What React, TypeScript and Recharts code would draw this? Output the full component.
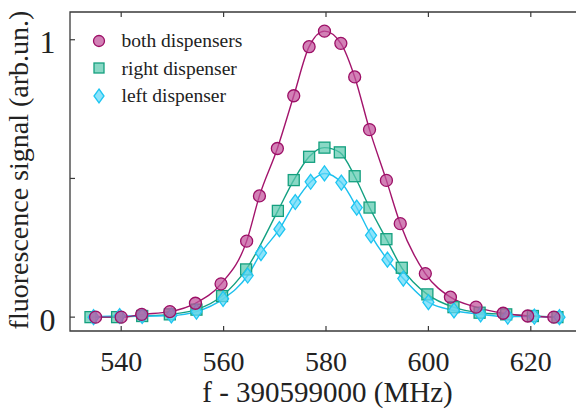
import React from "react";
import {
  ComposedChart, Line, Scatter, XAxis, YAxis, ReferenceArea, Legend,
} from "recharts";

// both dispensers (circles)
const BOTH_F = [535, 540, 544, 549.5, 554.5, 559.5, 564.5, 567, 570.5, 573.7, 576.7, 579.7, 582.9, 585.6, 588.5, 591.8, 594.5, 599.4, 604.3, 609.3, 614.6, 619.4, 624.5];
const BOTH_V = [0, 0, 0.01, 0.02, 0.05, 0.12, 0.274, 0.437, 0.608, 0.798, 0.975, 1.031, 0.987, 0.866, 0.676, 0.493, 0.337, 0.157, 0.072, 0.036, 0.014, 0.004, 0];

// right dispenser (squares)
const RIGHT_F = [534, 539.2, 544.1, 549.5, 554.7, 559.7, 564.4, 570.6, 573.7, 576.7, 579.7, 582.7, 585.6, 588.5, 591.8, 594.8, 599.8, 604.9, 610, 615.2, 620.4, 625.2];
const RIGHT_V = [0, 0, 0.004, 0.01, 0.027, 0.076, 0.172, 0.383, 0.494, 0.578, 0.611, 0.594, 0.508, 0.395, 0.281, 0.178, 0.082, 0.036, 0.016, 0.01, 0.004, 0];

// left dispenser (diamonds)
const LEFT_F = [534.6, 539.7, 544.1, 549.8, 554.7, 559.9, 564.7, 567.3, 570.9, 574, 577, 579.7, 583, 586, 588.8, 592, 595.1, 600, 605, 610.2, 615.5, 620.7, 625.6];
const LEFT_V = [0, 0.004, 0.004, 0.006, 0.02, 0.066, 0.15, 0.231, 0.317, 0.415, 0.488, 0.518, 0.485, 0.395, 0.295, 0.207, 0.139, 0.054, 0.024, 0.01, 0.002, 0.002, 0];

const X_TICKS = [540, 560, 580, 600, 620];
const Y_TICKS = [0, 0.5, 1];
const Y_TICK_LABELS: Record<number, string> = { 0: "0", 0.5: "", 1: "1" };

const toRows = (f: number[], v: number[]) => f.map((x, i) => ({ f: x, v: v[i] }));
const both = toRows(BOTH_F, BOTH_V);
const right = toRows(RIGHT_F, RIGHT_V);
const left = toRows(LEFT_F, LEFT_V);

const W = 576;
const H = 404;
const PL = 62, PR = 574, PT = 4, PB = 323;
const FONT = "Liberation Serif";
const INK = "#222";
const FRAME = "#3a3a3a";

const C_BOTH = { line: "#a3146c", fill: "#c0509a", stroke: "#9c0f66" };
const C_RIGHT = { line: "#13a081", fill: "#5cc9ae", stroke: "#14a07f" };
const C_LEFT = { line: "#1cc0ee", fill: "#62d8f8", stroke: "#1ec6f2" };

const circle = (c: typeof C_BOTH, r = 6) => (p: any) => (
  <circle cx={p.cx} cy={p.cy} r={r} fill={c.fill} fillOpacity={0.72} stroke={c.stroke} strokeWidth={1.3} />
);
const square = (c: typeof C_BOTH, s = 11) => (p: any) => (
  <rect x={p.cx - s / 2} y={p.cy - s / 2} width={s} height={s} fill={c.fill} fillOpacity={0.72} stroke={c.stroke} strokeWidth={1.3} />
);
const diamond = (c: typeof C_BOTH, w = 5.5, h = 7.5) => (p: any) => (
  <polygon
    points={`${p.cx},${p.cy - h} ${p.cx + w},${p.cy} ${p.cx},${p.cy + h} ${p.cx - w},${p.cy}`}
    fill={c.fill} fillOpacity={0.72} stroke={c.stroke} strokeWidth={1.3}
  />
);

const XTick = (props: any) => {
  const { x, payload } = props;
  return (
    <g>
      <line x1={x} x2={x} y1={PB} y2={PB - 5} stroke={FRAME} strokeWidth={1.2} />
      <line x1={x} x2={x} y1={PT} y2={PT + 5} stroke={FRAME} strokeWidth={1.2} />
      <text x={x} y={PB + 40} textAnchor="middle" fontFamily={FONT} fontSize={28} fill={INK}>
        {payload.value}
      </text>
    </g>
  );
};

const YTick = (props: any) => {
  const { y, payload } = props;
  return (
    <g>
      <line x1={PL} x2={PL + 5} y1={y} y2={y} stroke={FRAME} strokeWidth={1.2} />
      <line x1={PR} x2={PR - 5} y1={y} y2={y} stroke={FRAME} strokeWidth={1.2} />
      <text x={39.5} y={y + 13.5} textAnchor="middle" fontFamily={FONT} fontSize={32} fill={INK}>
        {Y_TICK_LABELS[payload.value]}
      </text>
    </g>
  );
};

const LEGEND_ITEMS = [
  { name: "both dispensers", mark: circle(C_BOTH, 5.5) },
  { name: "right dispenser", mark: square(C_RIGHT, 10) },
  { name: "left dispenser", mark: diamond(C_LEFT, 5, 7) },
];

const LegendBox = () => (
  <div style={{ fontFamily: FONT, fontSize: 19.5, color: INK, lineHeight: "27.5px" }}>
    {LEGEND_ITEMS.map((it) => (
      <div key={it.name} style={{ display: "flex", alignItems: "center", height: 27.5 }}>
        <svg width={22} height={22} style={{ marginRight: 11.5 }}>
          {it.mark({ cx: 11, cy: 11 })}
        </svg>
        <span style={{ whiteSpace: "nowrap" }}>{it.name}</span>
      </div>
    ))}
  </div>
);

const YLABEL_Y = 162;

export default function App() {
  return (
    <div style={{ fontFamily: FONT, width: W, height: H }}>
      <ComposedChart width={W} height={H} margin={{ top: PT, right: W - PR, left: 0, bottom: 0 }}>
        <XAxis
          dataKey="f"
          type="number"
          domain={[530, 630]}
          ticks={X_TICKS}
          allowDataOverflow
          height={H - PB}
          axisLine={false}
          tickLine={false}
          tick={<XTick />}
          label={() => (
            <text x={319.5} y={393.5} textAnchor="middle" fontFamily={FONT} fontSize={29} fill={INK}>
              f - 390599000 (MHz)
            </text>
          )}
        />
        <YAxis
          dataKey="v"
          type="number"
          domain={[-0.05, 1.1]}
          ticks={Y_TICKS}
          allowDataOverflow
          width={PL}
          axisLine={false}
          tickLine={false}
          tick={<YTick />}
          label={() => (
            <text
              x={20}
              y={YLABEL_Y}
              transform={`rotate(-90, 20, ${YLABEL_Y})`}
              textAnchor="middle"
              fontFamily={FONT}
              fontSize={28}
              fill={INK}
            >
              fluorescence signal (arb.un.)
            </text>
          )}
        />
        <ReferenceArea x1={530} x2={630} y1={-0.05} y2={1.1} fill="none" stroke={FRAME} strokeWidth={1.3} />
        <Legend
          layout="vertical"
          align="center"
          verticalAlign="middle"
          content={<LegendBox />}
          wrapperStyle={{ left: 80, top: 19, width: "auto", height: "auto" }}
        />
        <Line data={right} dataKey="v" type="monotone" stroke={C_RIGHT.line} strokeWidth={1.4} dot={false} isAnimationActive={false} legendType="none" />
        <Line data={left} dataKey="v" type="monotone" stroke={C_LEFT.line} strokeWidth={1.4} dot={false} isAnimationActive={false} legendType="none" />
        <Line data={both} dataKey="v" type="monotone" stroke={C_BOTH.line} strokeWidth={1.4} dot={false} isAnimationActive={false} legendType="none" />
        <Scatter data={right} dataKey="v" shape={square(C_RIGHT)} isAnimationActive={false} />
        <Scatter data={left} dataKey="v" shape={diamond(C_LEFT)} isAnimationActive={false} />
        <Scatter data={both} dataKey="v" shape={circle(C_BOTH)} isAnimationActive={false} />
      </ComposedChart>
    </div>
  );
}
